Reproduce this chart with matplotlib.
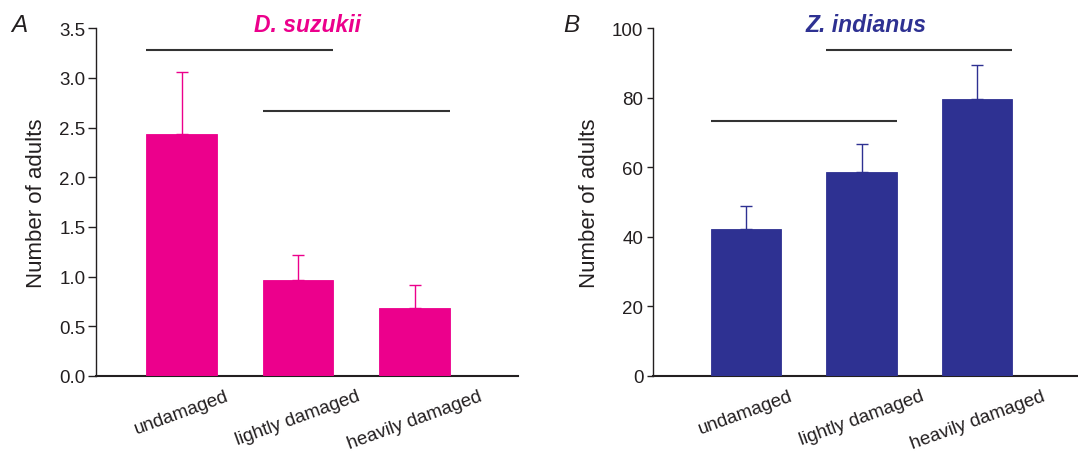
import matplotlib
matplotlib.use("Agg")
import matplotlib.pyplot as plt
import numpy as np

plt.rcParams['font.family'] = ['Liberation Sans', 'DejaVu Sans']

categories = ["undamaged", "lightly damaged", "heavily damaged"]

suzukii_mean = [2.44, 0.964, 0.685]
suzukii_err = [0.624, 0.257, 0.234]
suzukii_sig = [(0, 1, 3.282), (1, 2, 2.669)]
suzukii_ticks = [0.0, 0.5, 1.0, 1.5, 2.0, 2.5, 3.0, 3.5]

indianus_mean = [42.4, 58.6, 79.7]
indianus_err = [6.5, 8.06, 9.7]
indianus_sig = [(0, 1, 73.3), (1, 2, 93.75)]
indianus_ticks = [0, 20, 40, 60, 80, 100]

MAGENTA = "#EC008C"
NAVY = "#2E3192"
TXT = "#231F20"

W, H = 1078, 452
fig = plt.figure(figsize=(W / 100, H / 100), dpi=100)

def px_axes(x0, x1, y_top, y_bot):
    return fig.add_axes([x0 / W, 1 - y_bot / H, (x1 - x0) / W, (y_bot - y_top) / H])

ax1 = px_axes(96.4, 518.2, 29.3, 377)
ax2 = px_axes(653.2, 1078, 29.3, 377)

bw = 0.606

def draw(ax, means, errs, sig, ticks, color, xlim, ylim, fmt, ticklen, tickpad, title, label_x):
    x = np.arange(len(categories))
    ax.bar(x, means, width=bw, color=color, edgecolor=color, linewidth=0.6, zorder=3)
    ax.errorbar(x, means, yerr=[np.zeros(len(errs)), errs], fmt='none', ecolor=color,
                elinewidth=1.0, capsize=4, capthick=1.0, zorder=2)
    for i, j, y in sig:
        ax.hlines(y, x[i] - bw / 2, x[j] + bw / 2, color="#333333", linewidth=1.5, zorder=4)
    ax.set_xlim(*xlim)
    ax.set_ylim(*ylim)
    ax.set_yticks(ticks)
    ax.set_yticklabels([fmt.format(t) for t in ticks], fontsize=13.5, color=TXT)
    ax.set_xticks(x)
    ax.set_xticklabels(categories, rotation=20, ha='center', fontsize=13.5, color=TXT)
    ax.tick_params(axis='x', length=0, pad=8)
    ax.tick_params(axis='y', length=ticklen, width=1.0, pad=tickpad, direction='out', colors=TXT)
    for s in ['top', 'right']:
        ax.spines[s].set_visible(False)
    ax.spines['left'].set_linewidth(1.0)
    ax.spines['bottom'].set_linewidth(1.5)
    ax.spines['left'].set_color(TXT)
    ax.spines['bottom'].set_color(TXT)
    ax.set_ylabel("Number of adults", fontsize=16, color=TXT)
    ax.yaxis.set_label_coords(label_x, 0.5)
    ax.text(0.5, (377 - 31.7) / 347.7, title, transform=ax.transAxes, ha='center', va='baseline',
            fontsize=16.5, fontweight='bold', fontstyle='italic', color=color)
    ax.set_facecolor('none')

draw(ax1, suzukii_mean, suzukii_err, suzukii_sig, suzukii_ticks, MAGENTA,
     (-0.731, 2.889), (0, 3.5), "{:.1f}", 6, 2, "D. suzukii", -0.118)
draw(ax2, indianus_mean, indianus_err, indianus_sig, indianus_ticks, NAVY,
     (-0.80, 2.87), (0, 100), "{:d}", 4, 3, "Z. indianus", -0.126)

fig.text(11 / W, 1 - 31.7 / H, "A", fontsize=17.5, fontstyle='italic', color=TXT, va='baseline', ha='left')
fig.text(563 / W, 1 - 32.3 / H, "B", fontsize=17.5, fontstyle='italic', color=TXT, va='baseline', ha='left')

fig.savefig("out.png", dpi=100)
